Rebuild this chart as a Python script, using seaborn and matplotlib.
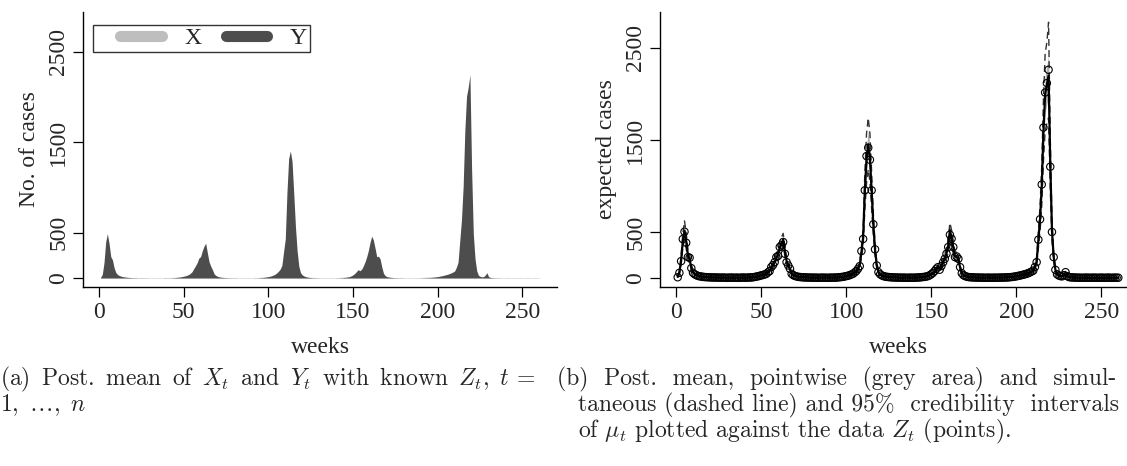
import numpy as np
import pandas as pd
import seaborn as sns
import matplotlib
matplotlib.use("Agg")
import matplotlib.pyplot as plt
from matplotlib.lines import Line2D
from matplotlib.legend_handler import HandlerLine2D

# ---------------------------------------------------------------- data
weeks = list(range(1, 261))

# observed weekly counts Z_t
z_obs = [
    8, 56, 183, 423, 503, 383, 227, 220, 107, 56, 40, 30, 22, 18, 15, 12, 10, 9, 8, 7,
    6, 5, 6, 4, 5, 3, 4, 5, 3, 2, 4, 3, 5, 2, 3, 4, 2, 3, 5, 4,
    3, 4, 6, 5, 8, 10, 14, 18, 22, 28, 32, 38, 44, 60, 74, 118, 140, 172, 227, 240,
    336, 355, 391, 263, 172, 136, 100, 45, 30, 22, 16, 12, 10, 8, 7, 6, 5, 5, 4, 4,
    3, 4, 3, 2, 3, 4, 3, 3, 2, 3, 4, 3, 5, 4, 6, 8, 10, 12, 16, 20,
    24, 30, 38, 45, 60, 75, 100, 129, 293, 424, 953, 1325, 1416, 1285, 953, 584, 311, 136, 63, 40,
    28, 20, 15, 12, 10, 8, 7, 6, 5, 5, 4, 4, 3, 4, 3, 2, 3, 4, 3, 3,
    4, 5, 6, 8, 10, 12, 15, 20, 28, 40, 55, 75, 100, 118, 90, 130, 170, 209, 263, 336,
    470, 427, 336, 227, 234, 209, 118, 52, 30, 20, 14, 10, 8, 7, 6, 5, 4, 5, 3, 4,
    3, 2, 4, 3, 3, 2, 4, 3, 3, 4, 5, 4, 6, 5, 7, 8, 10, 12, 15, 18,
    22, 26, 30, 35, 40, 45, 52, 60, 70, 80, 120, 172, 416, 638, 1016, 1635, 2016, 2118, 2263, 1209,
    500, 227, 89, 40, 27, 20, 18, 30, 63, 20, 10, 7, 6, 5, 4, 4, 3, 3, 2, 3,
    4, 3, 3, 2, 4, 3, 3, 2, 3, 4, 3, 2, 3, 4, 3, 2, 3, 4, 3, 3,
]

# posterior mean of mu_t
mu_mean = [
    12, 60, 190, 400, 515, 400, 250, 200, 115, 65, 42, 31, 23, 18, 15, 12, 10, 9, 8, 7,
    6, 5, 5, 5, 4, 4, 4, 4, 3, 3, 3, 3, 3, 3, 3, 3, 3, 3, 4, 4,
    4, 4, 5, 6, 8, 10, 13, 17, 22, 27, 32, 38, 45, 58, 78, 110, 140, 175, 220, 255,
    330, 370, 420, 290, 185, 135, 95, 50, 32, 22, 16, 12, 10, 8, 7, 6, 5, 5, 4, 4,
    4, 3, 3, 3, 3, 3, 3, 3, 3, 3, 3, 4, 4, 5, 6, 8, 10, 12, 16, 20,
    24, 30, 37, 46, 60, 78, 100, 140, 280, 440, 940, 1300, 1450, 1300, 950, 580, 310, 140, 66, 40,
    28, 20, 15, 12, 10, 8, 7, 6, 5, 5, 4, 4, 4, 4, 3, 3, 3, 3, 3, 4,
    4, 5, 6, 8, 10, 12, 15, 20, 28, 40, 55, 75, 98, 110, 100, 130, 170, 215, 270, 350,
    520, 430, 330, 235, 230, 200, 115, 55, 30, 20, 14, 10, 8, 7, 6, 5, 5, 4, 4, 4,
    3, 3, 3, 3, 3, 3, 3, 3, 4, 4, 5, 5, 6, 6, 7, 8, 10, 12, 15, 18,
    22, 26, 30, 35, 40, 45, 52, 60, 70, 82, 120, 180, 410, 640, 1000, 1600, 2000, 2100, 2200, 1250,
    520, 230, 92, 42, 28, 21, 20, 32, 58, 22, 11, 7, 6, 5, 4, 4, 3, 3, 3, 3,
    3, 3, 3, 3, 3, 3, 3, 3, 3, 3, 3, 3, 3, 3, 3, 3, 3, 3, 3, 3,
]

# pointwise 95% credibility interval
pw_low = [
    9, 53, 170, 360, 465, 360, 225, 180, 104, 58, 38, 28, 21, 16, 13, 11, 9, 8, 7, 6,
    5, 4, 4, 4, 3, 3, 3, 3, 2, 2, 2, 2, 2, 2, 2, 2, 2, 2, 3, 3,
    3, 3, 4, 5, 7, 9, 12, 15, 20, 24, 29, 34, 40, 52, 70, 99, 126, 158, 198, 230,
    297, 333, 378, 261, 167, 122, 86, 45, 29, 20, 14, 11, 9, 7, 6, 5, 4, 4, 3, 3,
    3, 2, 2, 2, 2, 2, 2, 2, 2, 2, 2, 3, 3, 4, 5, 7, 9, 11, 14, 18,
    22, 27, 33, 41, 54, 70, 90, 126, 252, 396, 846, 1170, 1305, 1170, 855, 522, 279, 126, 59, 36,
    25, 18, 13, 11, 9, 7, 6, 5, 4, 4, 3, 3, 3, 3, 2, 2, 2, 2, 2, 3,
    3, 4, 5, 7, 9, 11, 13, 18, 25, 36, 50, 68, 88, 99, 90, 117, 153, 194, 243, 315,
    468, 387, 297, 212, 207, 180, 104, 50, 27, 18, 13, 9, 7, 6, 5, 4, 4, 3, 3, 3,
    2, 2, 2, 2, 2, 2, 2, 2, 3, 3, 4, 4, 5, 5, 6, 7, 9, 11, 13, 16,
    20, 23, 27, 32, 36, 41, 47, 54, 63, 74, 108, 162, 369, 576, 900, 1440, 1800, 1890, 1980, 1125,
    468, 207, 83, 38, 25, 19, 18, 29, 52, 20, 10, 6, 5, 4, 3, 3, 2, 2, 2, 2,
    2, 2, 2, 2, 2, 2, 2, 2, 2, 2, 2, 2, 2, 2, 2, 2, 2, 2, 2, 2,
]
pw_high = [
    16, 68, 210, 440, 565, 440, 275, 222, 128, 73, 47, 35, 26, 20, 17, 14, 11, 10, 9, 8,
    7, 6, 6, 6, 5, 5, 5, 5, 4, 4, 4, 4, 4, 4, 4, 4, 4, 4, 5, 5,
    5, 5, 6, 7, 9, 11, 15, 19, 25, 30, 36, 42, 50, 64, 86, 121, 154, 193, 242, 280,
    363, 407, 460, 318, 203, 149, 105, 55, 35, 24, 18, 13, 11, 9, 8, 7, 6, 6, 5, 5,
    5, 4, 4, 4, 4, 4, 4, 4, 4, 4, 4, 5, 5, 6, 7, 9, 11, 13, 18, 22,
    27, 33, 41, 51, 66, 86, 110, 154, 308, 485, 1035, 1430, 1600, 1430, 1045, 640, 341, 154, 73, 44,
    31, 22, 17, 13, 11, 9, 8, 7, 6, 6, 5, 5, 5, 5, 4, 4, 4, 4, 4, 5,
    5, 6, 7, 9, 11, 13, 17, 22, 31, 44, 61, 83, 108, 121, 110, 143, 187, 237, 297, 385,
    572, 473, 363, 259, 253, 220, 127, 61, 33, 22, 15, 11, 9, 8, 7, 6, 6, 5, 5, 5,
    4, 4, 4, 4, 4, 4, 4, 4, 5, 5, 6, 6, 7, 7, 8, 9, 11, 13, 17, 20,
    24, 29, 33, 39, 44, 50, 57, 66, 77, 90, 132, 198, 451, 704, 1100, 1760, 2200, 2310, 2420, 1375,
    572, 253, 101, 46, 31, 23, 22, 35, 64, 24, 12, 8, 7, 6, 5, 5, 4, 4, 4, 4,
    4, 4, 4, 4, 4, 4, 4, 4, 4, 4, 4, 4, 4, 4, 4, 4, 4, 4, 4, 4,
]

# simultaneous 95% credibility band
sim_low = [
    6, 42, 150, 325, 420, 320, 195, 155, 88, 48, 31, 23, 17, 13, 11, 9, 7, 6, 6, 5,
    4, 3, 3, 3, 2, 2, 2, 2, 1, 1, 1, 1, 1, 1, 1, 1, 1, 1, 2, 2,
    2, 2, 3, 4, 5, 7, 9, 12, 16, 20, 24, 29, 35, 45, 61, 86, 110, 138, 175, 205,
    268, 300, 355, 235, 148, 107, 75, 38, 24, 16, 11, 8, 7, 5, 5, 4, 3, 3, 2, 2,
    2, 1, 1, 1, 1, 1, 1, 1, 1, 1, 1, 2, 2, 3, 4, 5, 7, 8, 11, 14,
    17, 22, 27, 34, 45, 59, 76, 108, 220, 345, 740, 1030, 1180, 1050, 760, 460, 245, 110, 51, 30,
    21, 14, 11, 8, 7, 5, 5, 4, 3, 3, 2, 2, 2, 2, 1, 1, 1, 1, 1, 2,
    2, 3, 4, 5, 7, 8, 11, 14, 21, 30, 42, 58, 76, 86, 77, 100, 132, 170, 212, 275,
    430, 345, 262, 185, 180, 157, 90, 42, 22, 14, 10, 7, 5, 5, 4, 3, 3, 2, 2, 2,
    1, 1, 1, 1, 1, 1, 1, 1, 2, 2, 3, 3, 4, 4, 5, 5, 7, 8, 11, 13,
    16, 19, 22, 26, 30, 34, 40, 45, 53, 62, 92, 140, 320, 505, 790, 1270, 1600, 1680, 1740, 970,
    405, 180, 71, 32, 21, 15, 15, 24, 44, 16, 8, 5, 4, 3, 2, 2, 1, 1, 1, 1,
    1, 1, 1, 1, 1, 1, 1, 1, 1, 1, 1, 1, 1, 1, 1, 1, 1, 1, 1, 1,
]
sim_high = [
    20, 80, 235, 480, 620, 490, 310, 250, 145, 85, 55, 40, 30, 24, 20, 16, 13, 12, 10, 9,
    8, 7, 7, 7, 6, 6, 6, 6, 5, 5, 5, 5, 5, 5, 5, 5, 5, 5, 6, 6,
    6, 6, 7, 8, 11, 13, 17, 22, 28, 34, 40, 47, 56, 72, 96, 135, 170, 212, 265, 305,
    395, 440, 485, 345, 222, 163, 115, 62, 40, 28, 21, 16, 13, 11, 9, 8, 7, 7, 6, 6,
    6, 5, 5, 5, 5, 5, 5, 5, 5, 5, 5, 6, 6, 7, 8, 11, 13, 16, 21, 26,
    31, 38, 47, 58, 75, 97, 124, 172, 340, 535, 1140, 1570, 1740, 1570, 1150, 700, 375, 170, 81, 50,
    35, 26, 19, 16, 13, 11, 9, 8, 7, 7, 6, 6, 6, 6, 5, 5, 5, 5, 5, 6,
    6, 7, 8, 11, 13, 16, 19, 26, 35, 50, 68, 92, 120, 135, 123, 160, 208, 262, 328, 425,
    600, 520, 400, 285, 280, 243, 140, 68, 38, 26, 18, 13, 11, 9, 8, 7, 7, 6, 6, 6,
    5, 5, 5, 5, 5, 5, 5, 5, 6, 6, 7, 7, 8, 8, 9, 11, 13, 16, 19, 23,
    28, 33, 38, 44, 50, 56, 65, 75, 87, 102, 148, 222, 500, 780, 1220, 1950, 2440, 2560, 2780, 1530,
    635, 282, 113, 52, 35, 27, 25, 40, 72, 28, 14, 9, 8, 7, 6, 6, 5, 5, 5, 5,
    5, 5, 5, 5, 5, 5, 5, 5, 5, 5, 5, 5, 5, 5, 5, 5, 5, 5, 5, 5,
]

# posterior means of the two components X_t and Y_t (Z_t known)
x_post = [
    12, 20, 22, 24, 22, 18, 15, 12, 10, 9, 8, 8, 7, 7, 6, 6, 6, 6, 5, 5,
    5, 6, 5, 4, 6, 5, 4, 5, 6, 4, 5, 6, 5, 4, 5, 6, 4, 5, 6, 5,
    6, 5, 7, 6, 8, 9, 10, 11, 12, 12, 13, 12, 12, 11, 12, 12, 11, 12, 11, 12,
    12, 11, 12, 11, 10, 10, 9, 9, 8, 8, 7, 7, 7, 6, 6, 6, 5, 6, 5, 5,
    6, 5, 4, 5, 6, 4, 5, 6, 5, 4, 5, 6, 5, 6, 7, 8, 9, 10, 11, 12,
    12, 13, 13, 12, 12, 11, 12, 12, 11, 11, 10, 10, 10, 10, 10, 10, 9, 9, 8, 8,
    8, 7, 7, 6, 6, 6, 5, 6, 5, 5, 4, 5, 6, 5, 4, 5, 6, 5, 4, 5,
    6, 5, 7, 8, 9, 10, 11, 12, 12, 13, 12, 12, 12, 11, 12, 11, 11, 11, 10, 10,
    10, 10, 10, 9, 9, 9, 8, 8, 8, 7, 7, 7, 6, 6, 6, 5, 5, 6, 5, 5,
    4, 5, 6, 5, 4, 5, 6, 5, 4, 5, 6, 7, 8, 9, 10, 11, 12, 12, 13, 13,
    13, 13, 12, 12, 12, 12, 12, 11, 11, 11, 11, 11, 10, 10, 10, 10, 10, 10, 10, 10,
    9, 9, 9, 8, 8, 8, 8, 8, 7, 7, 6, 6, 6, 5, 5, 6, 5, 5, 4, 5,
    6, 5, 4, 5, 6, 5, 4, 5, 6, 5, 4, 5, 6, 5, 4, 5, 6, 5, 4, 5,
]
y_post = [
    5, 40, 170, 400, 490, 380, 235, 200, 110, 60, 38, 27, 20, 15, 12, 9, 7, 5, 4, 3,
    2, 2, 1, 1, 1, 1, 1, 1, 0, 0, 0, 0, 0, 0, 0, 0, 0, 0, 1, 1,
    1, 1, 2, 3, 4, 6, 8, 11, 15, 19, 24, 30, 38, 52, 70, 105, 135, 170, 220, 235,
    300, 350, 385, 280, 180, 130, 92, 45, 28, 18, 12, 8, 6, 4, 3, 2, 2, 1, 1, 1,
    1, 0, 0, 0, 0, 0, 0, 0, 0, 0, 0, 1, 1, 2, 3, 4, 6, 8, 11, 15,
    19, 25, 32, 42, 56, 75, 98, 140, 290, 430, 950, 1320, 1405, 1290, 940, 570, 300, 130, 58, 35,
    22, 15, 10, 7, 5, 3, 2, 2, 1, 1, 0, 0, 0, 0, 0, 0, 0, 0, 0, 1,
    1, 2, 3, 4, 6, 8, 11, 16, 24, 35, 50, 70, 92, 80, 95, 130, 175, 230, 300, 390,
    462, 420, 330, 235, 240, 210, 120, 50, 25, 15, 10, 7, 5, 3, 2, 2, 1, 1, 1, 1,
    0, 0, 0, 0, 0, 0, 0, 0, 1, 1, 2, 2, 3, 3, 4, 5, 7, 9, 12, 15,
    19, 23, 27, 32, 37, 42, 49, 57, 66, 78, 118, 175, 410, 640, 1010, 1630, 2010, 2110, 2248, 1200,
    490, 215, 80, 30, 18, 12, 15, 30, 58, 15, 6, 3, 2, 1, 1, 1, 0, 0, 0, 0,
    0, 0, 0, 0, 0, 0, 0, 0, 0, 0, 0, 0, 0, 0, 0, 0, 0, 0, 0, 0,
]

x_ticks = [0, 50, 100, 150, 200, 250]
y_ticks = [0, 500, 1500, 2500]
legend_labels = ["X", "Y"]

df = pd.DataFrame({
    "week": weeks, "z": z_obs, "mu": mu_mean,
    "pw_lo": pw_low, "pw_hi": pw_high,
    "sim_lo": sim_low, "sim_hi": sim_high,
    "x": x_post, "y": y_post,
})

# ---------------------------------------------------------------- style
sns.set_theme(style="ticks")
plt.rcParams["font.family"] = ["Liberation Serif", "DejaVu Serif"]
plt.rcParams["mathtext.fontset"] = "cm"
plt.rcParams["axes.linewidth"] = 1.0

X_GREY = "#bebebe"
Y_GREY = "#4d4d4d"
FS = 17

W, H = 1127, 466
fig = plt.figure(figsize=(W / 100, H / 100), dpi=100)
fig.patch.set_facecolor("white")


def px_axes(x0, x1, y0, y1):
    return fig.add_axes([x0 / W, 1 - y1 / H, (x1 - x0) / W, (y1 - y0) / H])


ax1 = px_axes(83, 557, 12, 287)
ax2 = px_axes(660, 1136, 12, 287)


def style_axes(ax, ylim, ylabel):
    ax.set_xlim(-9.4, 270.4)
    ax.set_ylim(*ylim)
    ax.set_xticks(x_ticks)
    ax.set_yticks(y_ticks)
    ax.set_xticklabels([str(t) for t in x_ticks], fontsize=FS)
    ax.set_yticklabels([str(t) for t in y_ticks], fontsize=FS,
                       rotation=90, va="center")
    ax.tick_params(axis="both", direction="out", length=7, width=0.9,
                   color="black", pad=4)
    ax.tick_params(axis="y", pad=3)
    for side in ("top", "right"):
        ax.spines[side].set_visible(False)
    for side in ("left", "bottom"):
        ax.spines[side].set_color("black")
        ax.spines[side].set_linewidth(1.0)
    ax.set_xlabel("weeks", fontsize=FS, labelpad=10)
    ax.set_ylabel(ylabel, fontsize=FS, labelpad=6)
    ax.set_facecolor("white")
    ax.grid(False)


class LeadLineHandler(HandlerLine2D):
    """Legend line that starts a little way into its handle box."""

    def __init__(self, lead, **kw):
        super().__init__(**kw)
        self.lead = lead

    def get_xdata(self, legend, xdescent, ydescent, width, height, fontsize):
        xdata, xmark = super().get_xdata(legend, xdescent, ydescent,
                                         width, height, fontsize)
        xdata = np.asarray(xdata, dtype=float)
        xdata[0] += self.lead
        return xdata, xmark


# ---------------------------------------------------------------- (a)
ax1.fill_between(df["week"], 0, df["x"], color=X_GREY, lw=0)
ax1.fill_between(df["week"], 0, df["y"], color=Y_GREY, lw=0)
style_axes(ax1, (-100, 2942), "No. of cases")
handles = [
    Line2D([], [], color=X_GREY, lw=8, solid_capstyle="round"),
    Line2D([], [], color=Y_GREY, lw=8, solid_capstyle="round"),
]
leg = ax1.legend(handles, legend_labels, loc="upper left", ncol=2,
                 bbox_to_anchor=(10 / 474, 1 - 13 / 275), fontsize=FS,
                 frameon=True, fancybox=False, handlelength=2.8,
                 handletextpad=0.95, columnspacing=0.0, borderpad=0.12,
                 borderaxespad=0,
                 handler_map={Line2D: LeadLineHandler(lead=17.5)})
leg.get_frame().set_edgecolor("black")
leg.get_frame().set_linewidth(1.0)

# ---------------------------------------------------------------- (b)
ax2.fill_between(df["week"], df["pw_lo"], df["pw_hi"], color="#b0b0b0", lw=0)
sns.lineplot(data=df, x="week", y="sim_hi", ax=ax2, color="#333333",
             lw=1.0, linestyle=(0, (5, 3)))
sns.lineplot(data=df, x="week", y="sim_lo", ax=ax2, color="#333333",
             lw=1.0, linestyle=(0, (5, 3)))
sns.lineplot(data=df, x="week", y="mu", ax=ax2, color="black", lw=1.6)
sns.scatterplot(data=df, x="week", y="z", ax=ax2, s=28, marker="o",
                facecolor="none", edgecolor="black", linewidth=0.8, zorder=3)
style_axes(ax2, (-98, 2891), "expected cases")

# ---------------------------------------------------------------- captions
THIN = r"$\,$"
cap = dict(fontsize=17, family="cmr10", ha="left", va="baseline")
words_a = ["(a)", "Post.", "mean", "of", "$X_t$", "and", "$Y_t$",
           "with", "known", "$Z_t$,", r"$t\,=$"]
fig.text(0 / W, 1 - 385 / H, (" " + THIN).join(words_a), **cap)
fig.text(0 / W, 1 - 411 / H, r"$1,\ \ldots,\ n$", **cap)
fig.text(557 / W, 1 - 385 / H,
         "(b)  Post.  mean,  pointwise  (grey  area)  and  simul-", **cap)
fig.text(578 / W, 1 - 411 / H,
         "taneous (dashed line) and 95%  credibility  intervals", **cap)
fig.text(578 / W, 1 - 437 / H,
         r"of $\mu_t$ plotted against the data $Z_t$ (points).", **cap)

fig.savefig("out.png", dpi=100, facecolor="white")
